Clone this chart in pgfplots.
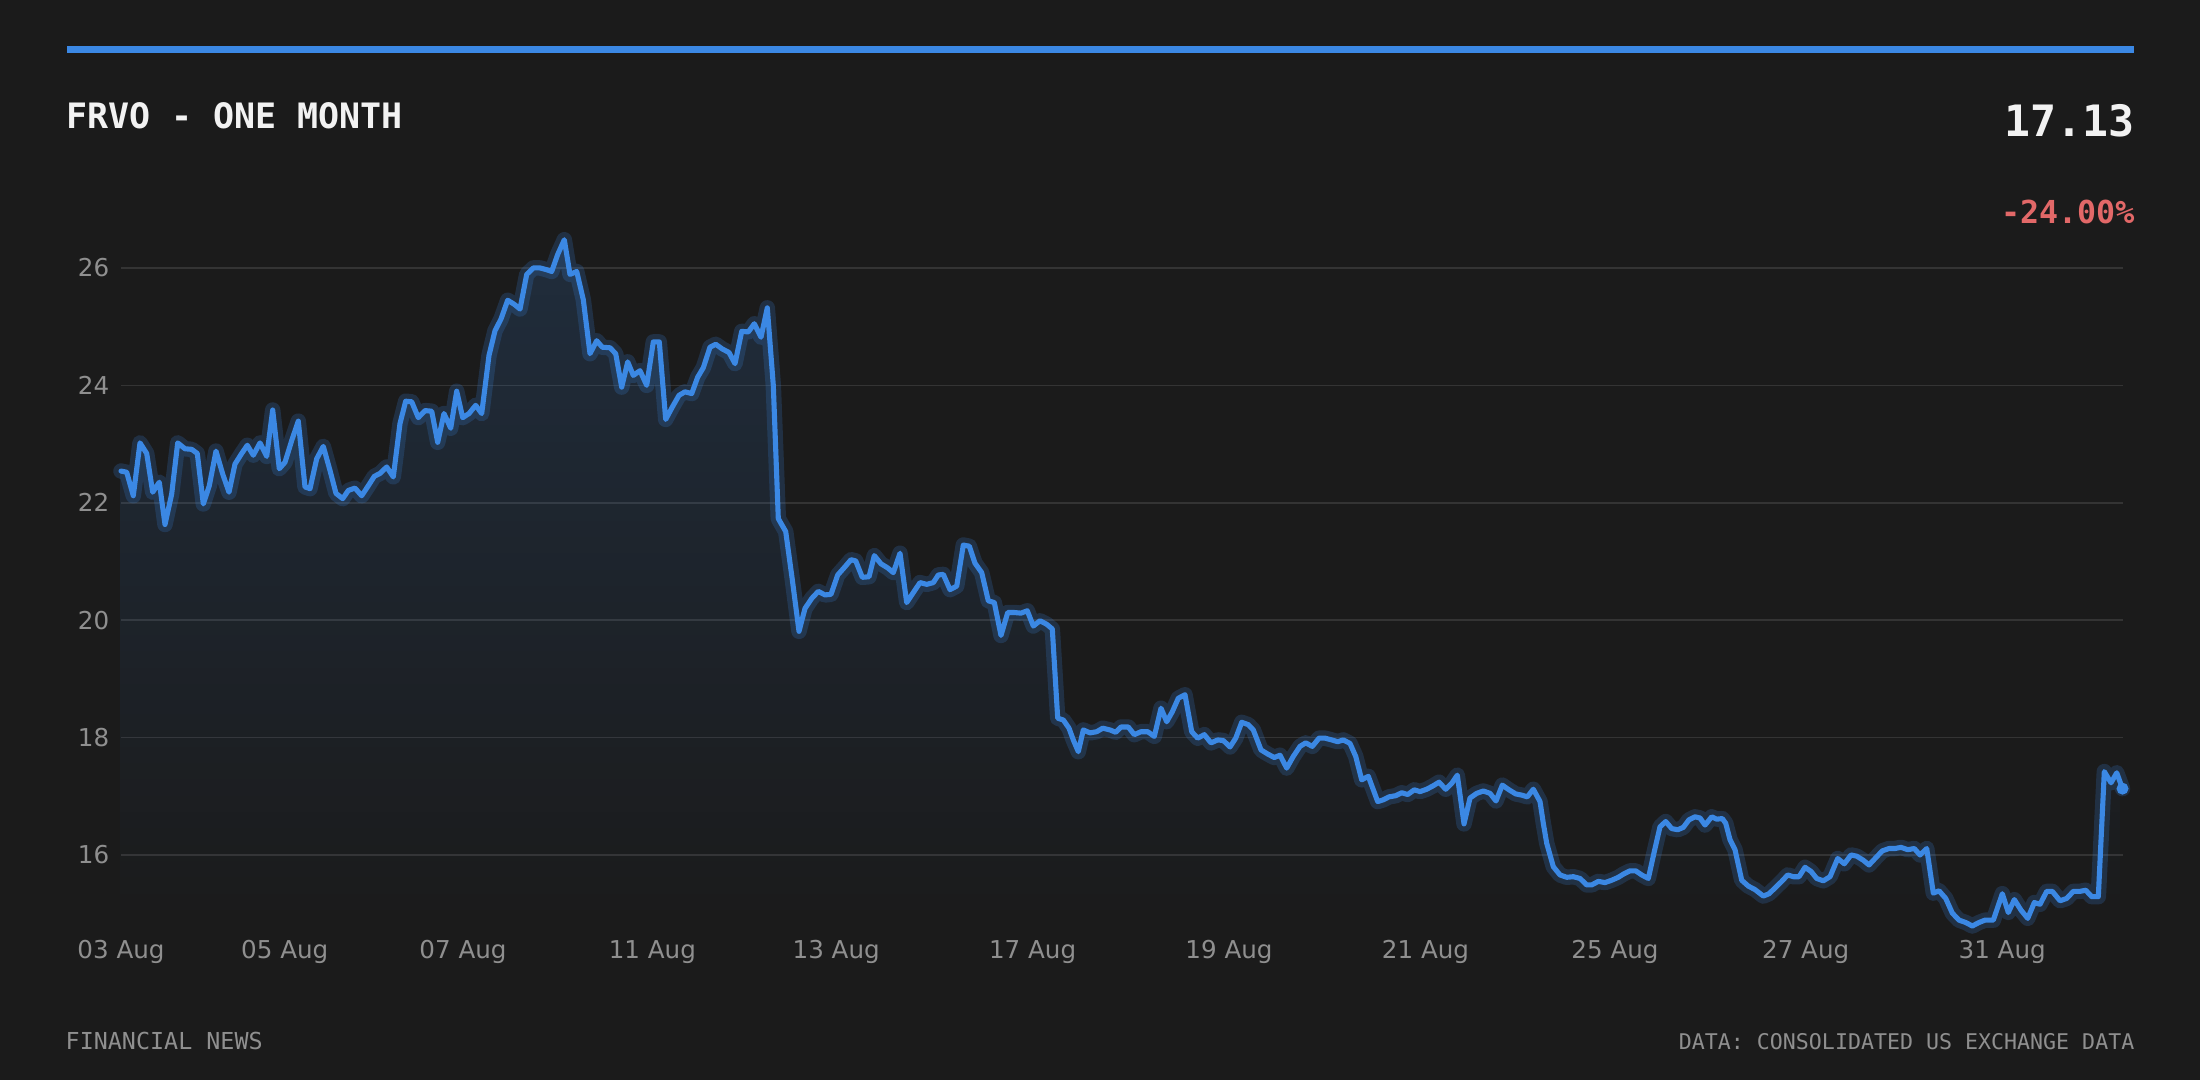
\documentclass[border=0pt]{standalone}
\usepackage{fontspec}
\setmainfont{DejaVu Sans}
\newfontfamily\monofont{DejaVu Sans Mono}
\usepackage{pgfplots}
\usepackage{pgfplotstable}
\pgfplotsset{compat=1.18}
\usetikzlibrary{fadings}
\definecolor{bgc}{HTML}{1B1B1B}
\definecolor{lineblue}{HTML}{3B88E4}
\definecolor{gridc}{HTML}{343434}
\definecolor{tickc}{HTML}{8F8F8F}
\definecolor{redc}{HTML}{E26868}
\definecolor{titlec}{HTML}{F2F2F2}
\pgfplotstableread{
x y
121.0 22.54
126.7 22.52
133.3 22.12
140.0 23.02
146.7 22.84
152.7 22.18
159.3 22.35
165.0 21.63
171.7 22.15
177.7 23.02
185.0 22.92
191.7 22.91
197.3 22.84
203.3 21.98
209.3 22.29
216.0 22.88
222.7 22.49
229.0 22.18
235.0 22.66
241.7 22.84
247.3 22.98
253.3 22.81
260.0 23.02
266.7 22.79
272.7 23.58
279.3 22.58
285.0 22.69
291.7 23.06
298.3 23.39
305.0 22.27
310.0 22.24
316.7 22.75
323.3 22.96
330.0 22.55
336.0 22.16
342.7 22.07
348.3 22.21
355.0 22.25
361.7 22.12
368.3 22.29
374.3 22.45
380.0 22.50
386.7 22.61
393.3 22.44
400.0 23.35
405.7 23.73
411.7 23.72
418.3 23.45
425.0 23.57
431.7 23.56
437.7 23.03
444.0 23.52
450.7 23.27
456.7 23.90
462.7 23.45
469.0 23.52
475.7 23.66
481.7 23.52
489.0 24.51
495.0 24.93
501.0 25.13
507.7 25.45
514.3 25.38
520.0 25.30
526.7 25.89
533.3 26.00
540.0 26.00
546.7 25.97
551.7 25.94
557.7 26.23
564.3 26.48
570.0 25.89
576.7 25.94
583.3 25.46
590.0 24.54
596.7 24.76
602.3 24.65
610.0 24.64
615.7 24.54
621.7 23.97
627.7 24.40
633.3 24.17
640.0 24.25
646.7 24.00
653.3 24.74
659.3 24.74
665.7 23.42
672.3 23.63
679.0 23.83
685.0 23.89
691.7 23.86
697.7 24.14
703.3 24.30
710.0 24.65
715.7 24.70
722.3 24.62
729.0 24.56
735.0 24.37
741.7 24.92
748.3 24.91
754.3 25.05
761.0 24.82
767.3 25.32
773.3 24.00
778.3 21.73
785.7 21.51
792.3 20.69
799.0 19.81
805.0 20.20
811.7 20.37
818.3 20.49
825.0 20.43
831.0 20.44
837.7 20.77
845.0 20.91
851.0 21.03
855.7 21.01
862.3 20.73
869.0 20.74
874.3 21.10
881.0 20.96
887.7 20.89
893.3 20.81
900.0 21.14
906.7 20.30
913.3 20.47
920.0 20.64
926.7 20.61
933.3 20.64
938.3 20.77
943.3 20.78
950.0 20.52
956.7 20.58
963.3 21.28
969.3 21.26
975.0 20.97
981.7 20.81
988.3 20.33
994.3 20.30
1001.0 19.74
1007.7 20.13
1014.3 20.13
1021.0 20.12
1027.3 20.16
1033.3 19.90
1040.0 19.99
1046.7 19.93
1052.3 19.85
1057.7 18.33
1063.3 18.30
1069.0 18.16
1073.3 17.96
1078.3 17.76
1083.3 18.13
1090.0 18.08
1096.7 18.10
1102.7 18.16
1110.0 18.13
1115.7 18.09
1121.0 18.18
1128.3 18.18
1134.3 18.05
1141.0 18.10
1147.7 18.10
1154.3 18.02
1161.0 18.50
1166.7 18.27
1172.3 18.44
1178.3 18.67
1185.0 18.73
1191.7 18.10
1197.7 17.99
1204.3 18.05
1211.0 17.91
1217.7 17.96
1223.3 17.95
1230.0 17.84
1235.7 17.99
1241.7 18.26
1248.3 18.22
1253.3 18.13
1261.0 17.79
1267.7 17.72
1274.3 17.66
1280.0 17.70
1286.7 17.48
1293.3 17.68
1300.0 17.85
1305.7 17.91
1312.3 17.85
1319.0 17.99
1325.0 17.99
1331.7 17.96
1337.7 17.93
1343.3 17.96
1350.0 17.90
1355.7 17.68
1361.7 17.28
1368.3 17.34
1377.7 16.91
1383.3 16.94
1389.0 16.99
1395.7 17.01
1401.7 17.06
1407.7 17.03
1414.3 17.11
1420.0 17.08
1426.7 17.12
1433.3 17.18
1439.0 17.24
1445.7 17.12
1451.7 17.22
1457.3 17.36
1464.0 16.53
1470.0 16.97
1476.7 17.05
1483.3 17.09
1490.0 17.05
1496.0 16.92
1502.3 17.19
1509.0 17.11
1515.7 17.04
1521.7 17.02
1527.3 16.99
1533.3 17.12
1540.0 16.91
1543.3 16.54
1546.7 16.20
1553.3 15.80
1560.0 15.66
1566.7 15.62
1573.3 15.63
1580.0 15.60
1586.7 15.49
1591.7 15.49
1598.3 15.55
1605.0 15.53
1611.7 15.57
1618.3 15.62
1624.0 15.68
1630.0 15.73
1635.7 15.73
1641.7 15.66
1648.3 15.60
1654.3 16.06
1660.0 16.48
1665.7 16.57
1671.7 16.45
1677.7 16.43
1683.3 16.47
1689.0 16.60
1695.0 16.65
1700.0 16.63
1705.0 16.51
1711.7 16.65
1716.7 16.61
1722.3 16.62
1725.7 16.54
1730.0 16.26
1735.0 16.09
1741.7 15.57
1748.3 15.47
1755.0 15.41
1763.3 15.30
1769.0 15.34
1775.7 15.45
1781.7 15.55
1787.7 15.66
1793.3 15.63
1799.0 15.63
1805.0 15.79
1811.0 15.72
1816.7 15.60
1823.3 15.56
1830.0 15.63
1837.7 15.94
1844.3 15.85
1851.0 16.00
1856.7 15.98
1863.3 15.91
1869.0 15.83
1876.7 15.97
1882.3 16.07
1889.0 16.11
1895.0 16.11
1901.0 16.13
1907.7 16.09
1914.3 16.11
1920.0 16.00
1926.7 16.11
1933.3 15.35
1939.0 15.39
1945.7 15.26
1952.3 15.01
1959.0 14.89
1965.7 14.85
1972.3 14.79
1979.0 14.85
1985.0 14.89
1993.3 14.89
2002.3 15.34
2008.3 15.02
2014.3 15.24
2021.0 15.06
2027.7 14.92
2034.3 15.19
2040.0 15.16
2046.7 15.38
2052.3 15.38
2060.0 15.22
2066.7 15.26
2073.3 15.38
2080.0 15.38
2085.7 15.40
2091.7 15.29
2098.3 15.29
2104.3 17.42
2111.0 17.23
2116.7 17.40
2122.5 17.13
}\pricedata
\begin{document}
\begin{tikzpicture}
\fill[bgc] (0,0) rectangle (220mm,108mm);
\fill[lineblue] (6.65mm,102.73mm) rectangle (213.4mm,103.4mm);
\node[anchor=base west, inner sep=0pt, text=titlec, font=\monofont\bfseries\fontsize{9.95}{12}\selectfont] at (6.55mm,95.1mm) {FRVO - ONE MONTH};
\node[anchor=base east, inner sep=0pt, text=titlec, font=\monofont\bfseries\fontsize{12.3}{15}\selectfont] at (213.5mm,94.3mm) {17.13};
\node[anchor=base east, inner sep=0pt, text=redc, font=\monofont\bfseries\fontsize{9.0}{11}\selectfont] at (213.5mm,85.6mm) {-24.00\%};
\node[anchor=base west, inner sep=0pt, text=tickc, font=\monofont\fontsize{6.65}{8}\selectfont] at (6.5mm,3.0mm) {FINANCIAL NEWS};
\node[anchor=base east, inner sep=0pt, text=tickc, font=\monofont\fontsize{6.15}{8}\selectfont] at (213.5mm,3.0mm) {DATA: CONSOLIDATED US EXCHANGE DATA};
\begin{axis}[
  at={(12.1mm,14.87mm)}, anchor=south west,
  scale only axis, width=200.2mm, height=71.03mm,
  xmin=121, xmax=2123, ymin=14.7, ymax=26.8,
  axis lines*=left, axis line style={draw=none}, tick style={draw=none},
  ytick={16,18,20,22,24,26},
  xtick={121,284.8,463,652.4,836.2,1032.6,1229,1425.5,1615,1805.7,2002.2},
  xticklabels={03 Aug,05 Aug,07 Aug,11 Aug,13 Aug,17 Aug,19 Aug,21 Aug,25 Aug,27 Aug,31 Aug},
  ymajorgrids, grid style={color=gridc, line width=0.45pt},
  /pgf/number format/assume math mode=true,
  ticklabel style={font=\fontsize{7}{8}\selectfont, text=tickc, inner sep=0pt},
  yticklabel style={anchor=east, xshift=-1.1mm},
  xticklabel style={anchor=base, yshift=-2.7mm},
  clip=false,
]
\addplot[draw=none, fill=lineblue, fill opacity=0.17, path fading=south] table[x=x,y=y] {\pricedata} \closedcycle;
\addplot[color=lineblue, opacity=0.2, line width=4.4pt, line join=round, line cap=round] table[x=x,y=y] {\pricedata};
\addplot[color=lineblue, line width=1.45pt, line join=round, line cap=round] table[x=x,y=y] {\pricedata};
\addplot[only marks, mark=*, mark size=1.5pt, color=lineblue] coordinates {(2122.5,17.13)};
\end{axis}
\pgfresetboundingbox
\path[use as bounding box] (0,0) rectangle (220mm,108mm);
\end{tikzpicture}
\end{document}
